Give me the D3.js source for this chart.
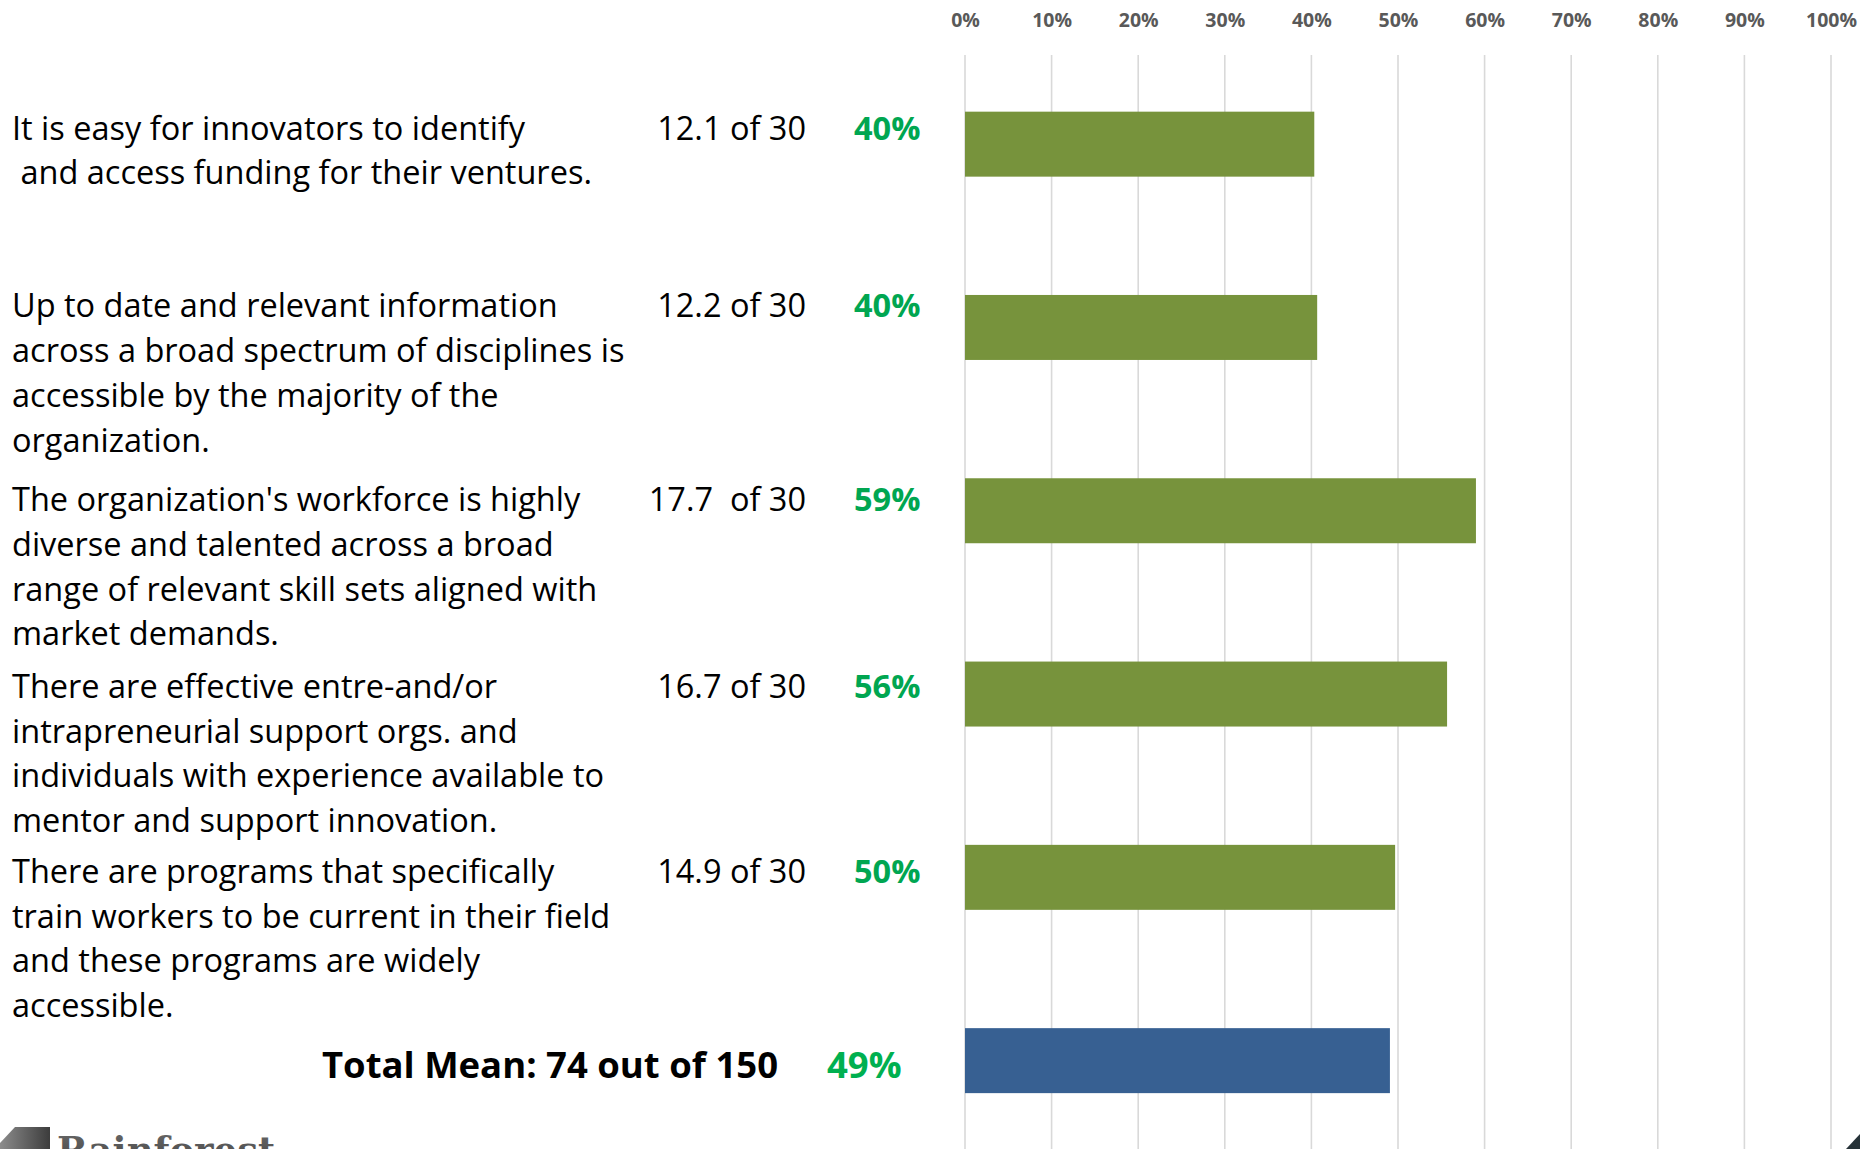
<!DOCTYPE html>
<html>
<head>
<meta charset="utf-8">
<script src="https://cdn.jsdelivr.net/npm/d3@7"></script>
<style>
  html, body { margin: 0; padding: 0; background: #ffffff; }
  svg { display: block; }
  text { white-space: pre; }
</style>
</head>
<body>
<script>
// Innovation ecosystem survey: resources & talent section
const statements = [
  ["It is easy for innovators to identify", " and access funding for their ventures."],
  ["Up to date and relevant information", "across a broad spectrum of disciplines is", "accessible by the majority of the", "organization."],
  ["The organization's workforce is highly", "diverse and talented across a broad", "range of relevant skill sets aligned with", "market demands."],
  ["There are effective entre-and/or", "intrapreneurial support orgs. and", "individuals with experience available to", "mentor and support innovation."],
  ["There are programs that specifically", "train workers to be current in their field", "and these programs are widely", "accessible."]
];
const scores = [12.1, 12.2, 17.7, 16.7, 14.9];
const scoreLabels = ["12.1 of 30", "12.2 of 30", "17.7  of 30", "16.7 of 30", "14.9 of 30"];
const pctLabels = ["40%", "40%", "59%", "56%", "50%"];
const maxPerItem = 30;
const totalMax = 150;
const totalPctLabel = "49%";
const tickValues = [0, 0.1, 0.2, 0.3, 0.4, 0.5, 0.6, 0.7, 0.8, 0.9, 1.0];

// vertical nudge of each statement block relative to its bar
const labelShift = [-4.5, -10, 0.5, 4, 5.5];

const W = 1860, H = 1149;
const FONT = "'Open Sans', 'Noto Sans', sans-serif";

const totalScore = d3.sum(scores);
const rows = scores.map((s, i) => ({ key: "r" + i, value: s / maxPerItem, total: false }));
rows.push({ key: "total", value: totalScore / totalMax, total: true });

const svg = d3.select("body").append("svg")
  .attr("width", W).attr("height", H);

const x = d3.scaleLinear().domain([0, 1]).range([965, 1831]);
const y = d3.scaleBand()
  .domain(rows.map(d => d.key))
  .range([52.5, 1152.3])
  .paddingInner(0.6455)
  .paddingOuter(0.3228);

// gridlines
svg.append("g")
  .selectAll("line")
  .data(tickValues)
  .join("line")
  .attr("x1", d => x(d)).attr("x2", d => x(d))
  .attr("y1", 55).attr("y2", H)
  .attr("stroke", "#d9d9d9")
  .attr("stroke-width", 1.6);

// top axis labels
const axis = d3.axisTop(x)
  .tickValues(tickValues)
  .tickFormat(d3.format(".0%"))
  .tickSize(0)
  .tickPadding(0);
const gAxis = svg.append("g").attr("transform", "translate(0,27)").call(axis);
gAxis.select(".domain").remove();
gAxis.selectAll("text")
  .attr("dy", 0)
  .attr("fill", "#595959")
  .style("font-family", FONT)
  .style("font-weight", "700")
  .style("font-size", "19.5px");

// bars
svg.append("g")
  .selectAll("rect")
  .data(rows)
  .join("rect")
  .attr("x", x(0))
  .attr("y", d => y(d.key))
  .attr("width", d => x(d.value) - x(0))
  .attr("height", y.bandwidth())
  .attr("fill", d => d.total ? "#376092" : "#77933c");

// statement text, scores and percentages
const lineH = 44.7;
const g = svg.append("g");
statements.forEach((lines, i) => {
  const key = rows[i].key;
  const base = y(key) + y.bandwidth() / 2 + labelShift[i];
  const t = g.append("text")
    .attr("x", 12)
    .attr("y", base)
    .attr("fill", "#000")
    .style("font-family", FONT)
    .style("font-size", "32.5px");
  lines.forEach((ln, j) => {
    t.append("tspan").attr("x", 12).attr("y", base + j * lineH).text(ln);
  });
  g.append("text")
    .attr("x", 806).attr("y", base)
    .attr("text-anchor", "end")
    .attr("fill", "#000")
    .style("font-family", FONT)
    .style("font-size", "32.5px")
    .text(scoreLabels[i]);
  g.append("text")
    .attr("x", 854).attr("y", base)
    .attr("fill", "#00a651")
    .style("font-family", FONT)
    .style("font-weight", "700")
    .style("font-size", "32.5px")
    .text(pctLabels[i]);
});

// total row
const totalBase = y("total") + y.bandwidth() / 2 + 17;
g.append("text")
  .attr("x", 778).attr("y", totalBase)
  .attr("text-anchor", "end")
  .attr("fill", "#000")
  .style("font-family", FONT)
  .style("font-weight", "700")
  .style("font-size", "36.5px")
  .text(`Total Mean: ${Math.round(totalScore)} out of ${totalMax}`);
g.append("text")
  .attr("x", 827).attr("y", totalBase)
  .attr("fill", "#00b050")
  .style("font-family", FONT)
  .style("font-weight", "700")
  .style("font-size", "36.5px")
  .text(totalPctLabel);

// footer brand mark (cut off at the bottom edge)
const defs = svg.append("defs");
const grad = defs.append("linearGradient").attr("id", "markGrad")
  .attr("x1", "0%").attr("x2", "100%").attr("y1", "0%").attr("y2", "0%");
grad.append("stop").attr("offset", "0%").attr("stop-color", "#8c8c8c");
grad.append("stop").attr("offset", "100%").attr("stop-color", "#3c3c3c");
const tgrad = defs.append("linearGradient").attr("id", "wordGrad")
  .attr("x1", "0%").attr("x2", "0%").attr("y1", "0%").attr("y2", "100%");
tgrad.append("stop").attr("offset", "0%").attr("stop-color", "#6a6a6a");
tgrad.append("stop").attr("offset", "100%").attr("stop-color", "#3e3e3e");

svg.append("path")
  .attr("d", "M15,1127 L50,1127 L50,1149 L0,1149 L0,1143 Z")
  .attr("fill", "url(#markGrad)");
svg.append("text")
  .attr("x", 57).attr("y", 1163)
  .attr("fill", "url(#wordGrad)")
  .style("font-family", "'DejaVu Serif', serif")
  .style("font-weight", "700")
  .style("font-size", "37px")
  .text("Rainforest");

// corner fold, bottom right
svg.append("path")
  .attr("d", "M1846,1149 L1860,1134 L1860,1149 Z")
  .attr("fill", "#263238");
</script>
</body>
</html>
